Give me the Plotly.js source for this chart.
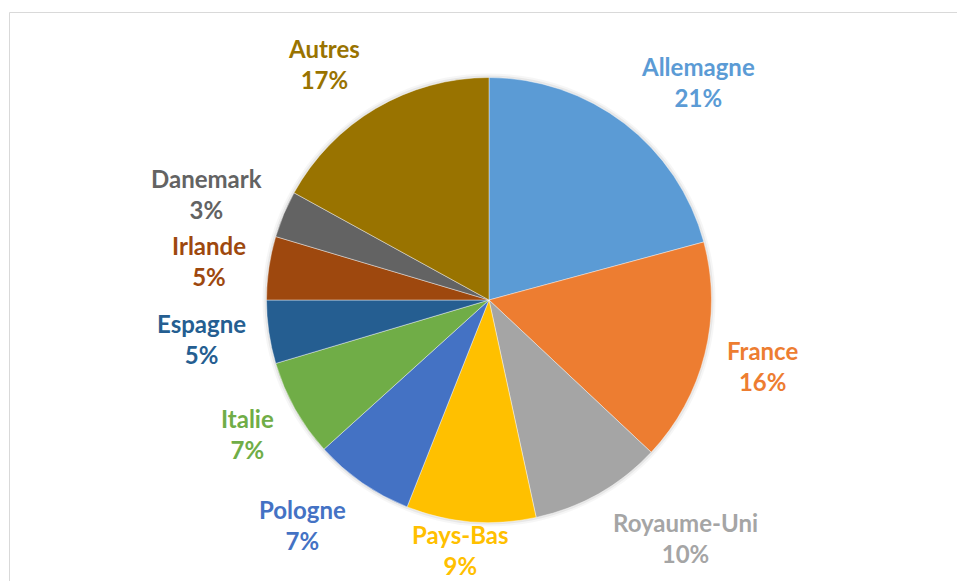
<!DOCTYPE html>
<html>
<head>
<meta charset="utf-8">
<script src="https://cdn.plot.ly/plotly-3.0.1.min.js"></script>
<style>
  html, body { margin: 0; padding: 0; background: #fff; }
  #chart { width: 957px; height: 581px; }
</style>
</head>
<body>
<div id="chart"></div>
<script>
// ---- Data ----
const countries = ["Allemagne", "France", "Royaume-Uni", "Pays-Bas", "Pologne", "Italie", "Espagne", "Irlande", "Danemark", "Autres"];
const shares = [20.8, 16.2, 9.6, 9.4, 7.3, 7.1, 4.6, 4.6, 3.4, 17.0];
const colors = ["#5B9BD5", "#ED7D31", "#A5A5A5", "#FFC000", "#4472C4", "#70AD47", "#255E91", "#9E480E", "#636363", "#997300"];

// ---- Layout geometry ----
const W = 957, H = 581;
const CX = 489, CY = 300, R = 222.5;
const dom = { x: [(CX - R) / W, (CX + R) / W], y: [1 - (CY + R) / H, 1 - (CY - R) / H] };
const FONT = "Lato, 'Open Sans', sans-serif";
const FS = 24;

const total = shares.reduce((a, b) => a + b, 0);
const canvas = document.createElement("canvas");
const ctx = canvas.getContext("2d");
ctx.font = "bold " + FS + "px " + FONT;

const clamp = (v, a, b) => Math.max(a, Math.min(b, v));
const annotations = [];
let cum = 0;
shares.forEach((v, i) => {
  const mid = (cum + v / 2) / total;
  cum += v;
  const th = mid * 2 * Math.PI;
  const ux = Math.sin(th), uy = -Math.cos(th); // screen coords
  const pct = Math.round(v / total * 100) + "%";
  const w = Math.max(ctx.measureText(countries[i]).width, ctx.measureText(pct).width);
  const D = 236;
  const px = CX + D * ux + (w / 2 + 9) * clamp(ux * 2, -1, 1);
  let py = CY + D * uy + 38 * uy;
  py = clamp(py, 30, H - 31);
  annotations.push({
    xref: "paper", yref: "paper",
    x: px / W, y: 1 - py / H,
    xanchor: "center", yanchor: "middle",
    showarrow: false,
    align: "center",
    text: countries[i] + "<br>" + pct,
    font: { family: FONT, size: FS, color: colors[i], weight: 700 }
  });
});

function ring(extra, col) {
  return {
    type: "pie", values: [1], labels: ["s" + extra], sort: false,
    domain: { x: [(CX - R - extra) / W, (CX + R + extra) / W], y: [1 - (CY + R + extra) / H, 1 - (CY - R - extra) / H] },
    marker: { colors: [col], line: { width: 0 } },
    textinfo: "none", hoverinfo: "skip", showlegend: false
  };
}

const data = [
  ring(4, "rgba(0,0,0,0.035)"),
  ring(2, "rgba(0,0,0,0.06)"),
  {
    type: "pie",
    labels: countries,
    values: shares,
    sort: false,
    direction: "clockwise",
    rotation: 0,
    domain: dom,
    marker: { colors: colors, line: { color: "rgba(255,255,255,0.7)", width: 0.6 } },
    textinfo: "none",
    hovertemplate: "%{label}: %{percent}<extra></extra>",
    showlegend: false
  }
];

const layout = {
  width: W, height: H,
  margin: { l: 0, r: 0, t: 0, b: 0 },
  paper_bgcolor: "#fff",
  showlegend: false,
  annotations: annotations,
  shapes: [{
    type: "rect", xref: "paper", yref: "paper",
    x0: 9.5 / W, x1: 1.2, y0: -0.2, y1: 1 - 12.5 / H,
    line: { color: "#D9D9D9", width: 1 }, fillcolor: "rgba(0,0,0,0)"
  }]
};

Plotly.newPlot("chart", data, layout, { displayModeBar: false, staticPlot: true });
</script>
</body>
</html>
